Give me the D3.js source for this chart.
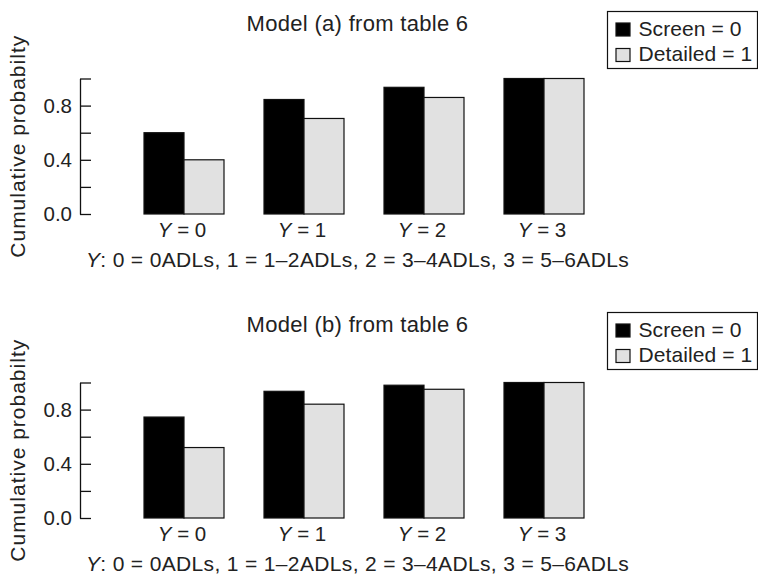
<!DOCTYPE html>
<html>
<head>
<meta charset="utf-8">
<script src="https://cdn.jsdelivr.net/npm/d3@7"></script>
<style>
  body { margin: 0; background: #fff; }
  svg { display: block; font-family: "Liberation Sans", Arial, Helvetica, sans-serif; }
</style>
</head>
<body>
<div id="chart"></div>
<script>
// data
const categories = ["0", "1", "2", "3"];
const seriesNames = ["Screen = 0", "Detailed = 1"];
const panelTitles = ["Model (a) from table 6", "Model (b) from table 6"];
const screenA = [0.60, 0.845, 0.935, 1.0];
const detailedA = [0.40, 0.705, 0.86, 1.0];
const screenB = [0.745, 0.935, 0.98, 1.0];
const detailedB = [0.52, 0.84, 0.95, 1.0];
const yTicks = [0, 0.2, 0.4, 0.6, 0.8, 1.0];
const yTickLabels = ["0.0", "", "0.4", "", "0.8", ""];
const footnote = ": 0 = 0ADLs, 1 = 1\u20132ADLs, 2 = 3\u20134ADLs, 3 = 5\u20136ADLs";
const yLabel = "Cumulative probabilty";

const width = 758, height = 574;
const colors = ["#000", "#e1e1e1"];
const axisX = 80;
const cx = 357.5;
const panels = [
  { title: panelTitles[0], series: [screenA, detailedA], zero: 214, head: 0 },
  { title: panelTitles[1], series: [screenB, detailedB], zero: 518, head: 301 }
];

const svg = d3.select("#chart").append("svg")
  .attr("width", width)
  .attr("height", height);

const x0 = d3.scaleBand()
  .domain(categories)
  .range([124, 604])
  .paddingInner(1 / 3)
  .paddingOuter(1 / 6);
const x1 = d3.scaleBand()
  .domain(seriesNames)
  .range([0, x0.bandwidth()]);

panels.forEach(p => {
  const g = svg.append("g");
  const y = d3.scaleLinear().domain([0, 1]).range([p.zero, p.zero - 135.5]);

  // title
  g.append("text")
    .attr("x", cx)
    .attr("y", p.head + 31)
    .attr("text-anchor", "middle")
    .style("font-size", "22px")
    .style("letter-spacing", "0.3px")
    .attr("fill", "#222")
    .text(p.title);

  // y axis, ticks pointing inward
  const yAxis = d3.axisLeft(y)
    .tickValues(yTicks)
    .tickFormat((d, i) => yTickLabels[i])
    .tickSizeInner(-11)
    .tickSizeOuter(0)
    .tickPadding(8);
  const ax = g.append("g")
    .attr("transform", `translate(${axisX},0)`)
    .call(yAxis);
  ax.selectAll("path, line").attr("stroke", "#111").attr("stroke-width", 1.3);
  ax.selectAll("text")
    .attr("fill", "#222")
    .style("font-size", "20.5px")
    .style("font-family", "'Liberation Sans', Arial, sans-serif");

  // y axis title
  g.append("text")
    .attr("transform", `translate(25,${(y(0) + y(1)) / 2}) rotate(-90)`)
    .attr("text-anchor", "middle")
    .style("font-size", "21px")
    .style("letter-spacing", "1px")
    .attr("fill", "#222")
    .text(yLabel);

  // bars
  const groups = g.selectAll(".grp")
    .data(categories)
    .join("g")
    .attr("class", "grp")
    .attr("transform", d => `translate(${x0(d)},0)`);

  groups.selectAll("rect")
    .data((d, i) => seriesNames.map((s, j) => ({ s, j, v: p.series[j][i] })))
    .join("rect")
    .attr("x", d => x1(d.s))
    .attr("y", d => y(d.v))
    .attr("width", x1.bandwidth())
    .attr("height", d => y(0) - y(d.v))
    .attr("fill", d => colors[d.j])
    .attr("stroke", "#111")
    .attr("stroke-width", 1.2);

  // category labels
  const lab = g.selectAll(".cat")
    .data(categories)
    .join("text")
    .attr("class", "cat")
    .attr("x", d => x0(d) + x0.bandwidth() / 2 - 2)
    .attr("y", p.zero + 23)
    .attr("text-anchor", "middle")
    .attr("fill", "#222")
    .style("font-size", "20.5px");
  lab.append("tspan").style("font-style", "italic").text("Y");
  lab.append("tspan").text(d => " = " + d);

  // footnote
  const fn = g.append("text")
    .attr("x", cx)
    .attr("y", p.zero + 52.5)
    .attr("text-anchor", "middle")
    .attr("fill", "#222")
    .style("font-size", "21px")
    .style("letter-spacing", "0.35px");
  fn.append("tspan").style("font-style", "italic").text("Y");
  fn.append("tspan").text(footnote);

  // legend
  const lg = g.append("g").attr("transform", `translate(607,${p.head + 11})`);
  lg.append("rect")
    .attr("x", 0.5).attr("y", 0.5)
    .attr("width", 150).attr("height", 57)
    .attr("fill", "#fff")
    .attr("stroke", "#111")
    .attr("stroke-width", 1.2);
  seriesNames.forEach((s, j) => {
    const row = lg.append("g").attr("transform", `translate(0,${24.5 + j * 25.5})`);
    row.append("rect")
      .attr("x", 9).attr("y", -12.5)
      .attr("width", 14).attr("height", 13)
      .attr("fill", colors[j])
      .attr("stroke", "#111")
      .attr("stroke-width", 1.2);
    row.append("text")
      .attr("x", 31.5)
      .attr("y", 0)
      .attr("fill", "#222")
      .style("font-size", "21px")
      .style("letter-spacing", "0.1px")
      .text(s);
  });
});
</script>
</body>
</html>
